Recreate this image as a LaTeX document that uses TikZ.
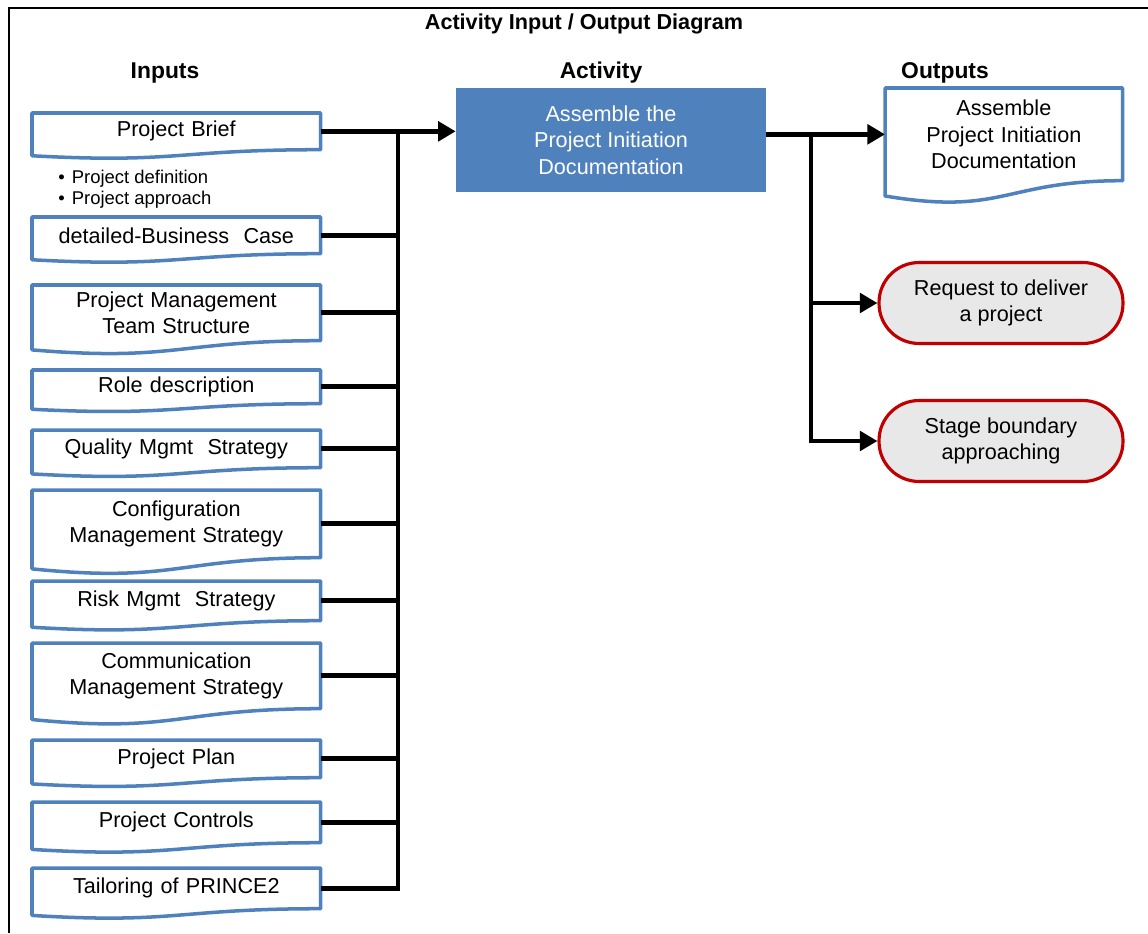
\documentclass[tikz,border=0pt]{standalone}
\usepackage{fontspec}
\setmainfont{Liberation Sans}
\usetikzlibrary{arrows.meta,calc}
\definecolor{docblue}{HTML}{4F81BD}
\definecolor{termred}{HTML}{C00000}
\definecolor{termgray}{HTML}{E8E8E8}
\begin{document}
\begin{tikzpicture}[x=0.02cm, y=-0.02cm,
  boxfont/.style={font=\fontsize{12.3}{15}\selectfont},
  heading/.style={font=\bfseries\fontsize{13}{15}\selectfont},
  docbox/.style={boxfont, rectangle, anchor=north west, inner sep=0pt,
    minimum width=5.76cm, text width=5.6cm, align=center},
  docline/.style={draw=docblue, line width=2pt, line join=round},
  conn/.style={line width=2.8pt},
  tip/.style={-{Triangle[length=10pt,width=11pt]}},
  term/.style={boxfont, rectangle, rounded corners=0.8cm, draw=termred, fill=termgray,
    line width=1.8pt, minimum width=4.88cm, minimum height=1.62cm, align=center}]
 \useasboundingbox (0,0) rectangle (1148,933);
 % frame
 \draw[line width=1.1pt] (9,933) -- (9,8) -- (1148,8);
 \node[font=\bfseries\fontsize{12.3}{15}\selectfont] (title) at (584,24) {Activity Input / Output Diagram};
 \node[heading] (inhead) at (165,73) {Inputs};
 \node[heading] (acthead) at (601,73) {Activity};
 \node[heading] (outhead) at (945,73) {Outputs};

 % inputs
 \node[docbox, minimum height=0.72cm] (brief) at (32,113) {Project Brief};
 \node[anchor=west, inner sep=0pt, align=left, font=\fontsize{10.5}{11.9}\selectfont] (briefnotes) at (58,189)
   {\textbullet\hspace{4pt}Project definition\\\textbullet\hspace{4pt}Project approach};
 \node[docbox, minimum height=0.72cm] (bcase) at (32,217) {detailed-Business\ \ Case};
 \node[docbox, minimum height=1.10cm] (pmteam) at (32,285) {Project Management\\Team Structure};
 \node[docbox, minimum height=0.66cm] (roles) at (32,370) {Role description};
 \node[docbox, minimum height=0.74cm] (quality) at (32,430) {Quality Mgmt\ \ Strategy};
 \node[docbox, minimum height=1.34cm] (config) at (32,490) {Configuration\\Management Strategy};
 \node[docbox, minimum height=0.78cm] (risk) at (32,581) {Risk Mgmt\ \ Strategy};
 \node[docbox, minimum height=1.30cm] (comms) at (32,643) {Communication\\Management Strategy};
 \node[docbox, minimum height=0.74cm] (plan) at (32,740) {Project Plan};
 \node[docbox, minimum height=0.80cm] (controls) at (32,802) {Project Controls};
 \node[docbox, minimum height=0.80cm] (tailor) at (32,868) {Tailoring of PRINCE2};

 % activity
 \node[boxfont, fill=docblue, text=white, minimum width=6.2cm, minimum height=2.08cm, align=center]
   (act) at (611,140) {Assemble the\\Project Initiation\\Documentation};

 % outputs
 \node[docbox, minimum width=4.74cm, text width=4.6cm, minimum height=1.84cm] (outdoc) at (885,88)
   {Assemble\\Project Initiation\\Documentation};
 \node[term] (req) at (1001,303) {Request to deliver\\a project};
 \node[term] (stage) at (1001,441) {Stage boundary\\approaching};

 % document outlines
 \foreach \n in {brief,bcase,pmteam,roles,quality,config,risk,comms,plan,controls,tailor,outdoc}
   \draw[docline] (\n.north west) -- (\n.north east) -- (\n.south east)
     .. controls (\n.south) and ($(\n.north)!1.38!(\n.south)$) .. ($(\n.north west)!1.165!(\n.south west)$) -- cycle;

 % connectors
 \coordinate (join) at (398,0);
 \coordinate (split) at (811,0);
 \draw[conn] (brief.east -| join) |- (tailor.east);
 \foreach \n in {bcase,pmteam,roles,quality,config,risk,comms,plan,controls}
   \draw[conn] (\n.east) -- (\n.east -| join);
 \draw[conn, tip] (brief.east) -- (brief.east -| act.west);
 \draw[conn, tip] (act.east |- outdoc.west) -- (outdoc.west);
 \draw[conn, tip] (outdoc.west -| split) |- (req.west);
 \draw[conn, tip] (outdoc.west -| split) |- (stage.west);
\end{tikzpicture}
\end{document}
